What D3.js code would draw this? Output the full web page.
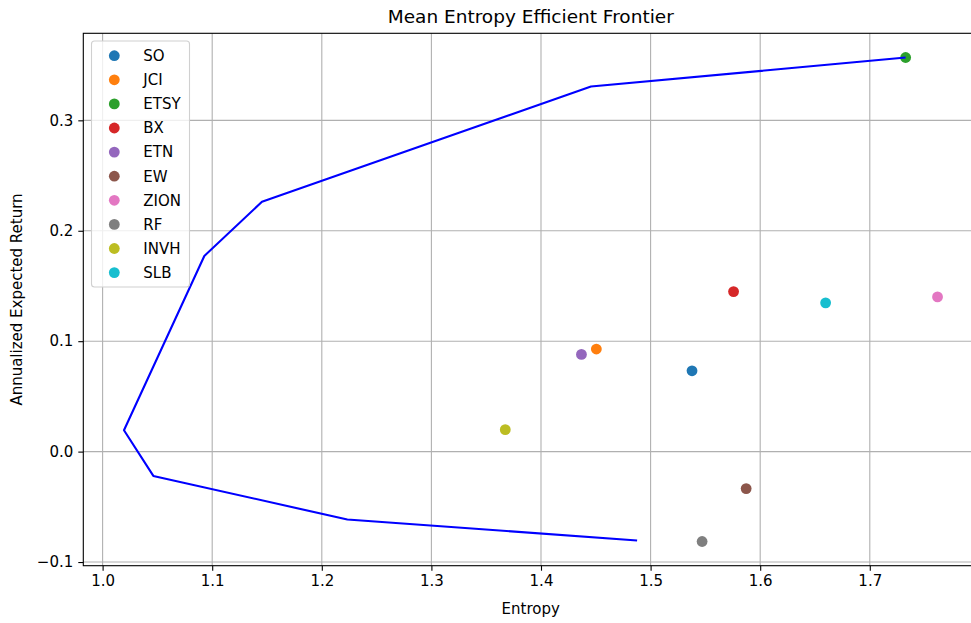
<!DOCTYPE html>
<html>
<head>
<meta charset="utf-8">
<script src="https://cdn.jsdelivr.net/npm/d3@7"></script>
<style>
  html, body { margin: 0; padding: 0; background: #fff; }
  svg { display: block; font-family: "DejaVu Sans", sans-serif; }
</style>
</head>
<body>
<svg id="chart" width="971" height="623"></svg>
<script>
// ---- data ----
const tickers = ["SO", "JCI", "ETSY", "BX", "ETN", "EW", "ZION", "RF", "INVH", "SLB"];
const entropy = [1.5378, 1.4505, 1.7327, 1.5757, 1.4369, 1.5872, 1.7618, 1.5470, 1.3674, 1.6597];
const annReturn = [0.0732, 0.0929, 0.3569, 0.1449, 0.0880, -0.0335, 0.1401, -0.0814, 0.0199, 0.1347];
const colors = ["#1f77b4", "#ff7f0e", "#2ca02c", "#d62728", "#9467bd", "#8c564b", "#e377c2", "#7f7f7f", "#bcbd22", "#17becf"];

const frontierEntropy = [1.4877, 1.2233, 1.0463, 1.0195, 1.0928, 1.1454, 1.4456, 1.7327];
const frontierReturn = [-0.0805, -0.0615, -0.0220, 0.0193, 0.1772, 0.2263, 0.3306, 0.3569];

const xTicks = [1.0, 1.1, 1.2, 1.3, 1.4, 1.5, 1.6, 1.7];
const yTicks = [-0.1, 0.0, 0.1, 0.2, 0.3];

// ---- layout ----
const svg = d3.select("#chart");
const pLeft = 83.3, pRight = 978.2, pTop = 33.3, pBottom = 565.7;

const allX = entropy.concat(frontierEntropy);
const allY = annReturn.concat(frontierReturn);
const xMin = d3.min(allX), xMax = d3.max(allX);
const yMin = d3.min(allY), yMax = d3.max(allY);
const xPad = (xMax - xMin) * 0.05, yPad = (yMax - yMin) * 0.05;

const x = d3.scaleLinear().domain([xMin - xPad, xMax + xPad]).range([pLeft, pRight]);
const y = d3.scaleLinear().domain([yMin - yPad, yMax + yPad]).range([pBottom, pTop]);

// clip
svg.append("defs").append("clipPath").attr("id", "clip")
  .append("rect").attr("x", pLeft).attr("y", pTop).attr("width", pRight - pLeft).attr("height", pBottom - pTop);

// grid
const grid = svg.append("g");
grid.selectAll(".gx").data(xTicks).enter().append("line")
  .attr("x1", d => x(d)).attr("x2", d => x(d)).attr("y1", pTop).attr("y2", pBottom)
  .attr("stroke", "#b0b0b0").attr("stroke-width", 1.1);
grid.selectAll(".gy").data(yTicks).enter().append("line")
  .attr("x1", pLeft).attr("x2", pRight).attr("y1", d => y(d)).attr("y2", d => y(d))
  .attr("stroke", "#b0b0b0").attr("stroke-width", 1.1);

// scatter points
const plot = svg.append("g").attr("clip-path", "url(#clip)");
plot.selectAll("circle.pt").data(tickers).enter().append("circle")
  .attr("class", "pt")
  .attr("cx", (d, i) => x(entropy[i]))
  .attr("cy", (d, i) => y(annReturn[i]))
  .attr("r", 5.4)
  .attr("fill", (d, i) => colors[i]);

// frontier line
const line = d3.line().x(d => x(d[0])).y(d => y(d[1]));
plot.append("path")
  .datum(frontierEntropy.map((e, i) => [e, frontierReturn[i]]))
  .attr("d", line)
  .attr("fill", "none")
  .attr("stroke", "#0000ff")
  .attr("stroke-width", 2.1)
  .attr("stroke-linejoin", "round");

// axes
const xAxis = d3.axisBottom(x).tickValues(xTicks).tickFormat(d3.format(".1f")).tickSize(5).tickPadding(5);
const yAxis = d3.axisLeft(y).tickValues(yTicks).tickFormat(d => d3.format(".1f")(d).replace("-", "\u2212")).tickSize(5).tickPadding(5);

const gx = svg.append("g").attr("transform", `translate(0,${pBottom})`).call(xAxis);
const gy = svg.append("g").attr("transform", `translate(${pLeft},0)`).call(yAxis);
[gx, gy].forEach(g => {
  g.select(".domain").remove();
  g.selectAll("line").attr("stroke", "#000").attr("stroke-width", 1.1);
  g.selectAll("text").attr("fill", "#000").style("font-size", "15px").style("font-family", "DejaVu Sans, sans-serif");
});

// spines
svg.append("rect").attr("x", pLeft).attr("y", pTop).attr("width", pRight - pLeft).attr("height", pBottom - pTop)
  .attr("fill", "none").attr("stroke", "#000").attr("stroke-width", 1.1);

// title and labels
svg.append("text").attr("x", (pLeft + pRight) / 2).attr("y", 22.5).attr("text-anchor", "middle")
  .style("font-size", "18.5px").attr("fill", "#000").text("Mean Entropy Efficient Frontier");
svg.append("text").attr("x", (pLeft + pRight) / 2).attr("y", 614).attr("text-anchor", "middle")
  .style("font-size", "15px").attr("fill", "#000").text("Entropy");
svg.append("text").attr("transform", `translate(22,${(pTop + pBottom) / 2}) rotate(-90)`).attr("text-anchor", "middle")
  .style("font-size", "15px").attr("fill", "#000").text("Annualized Expected Return");

// legend
const lg = svg.append("g");
lg.append("rect").attr("x", 91.5).attr("y", 41).attr("width", 98).attr("height", 246)
  .attr("rx", 3).attr("ry", 3)
  .attr("fill", "#fff").attr("fill-opacity", 0.8).attr("stroke", "#d0d0d0").attr("stroke-width", 1.1);
const items = lg.selectAll("g.item").data(tickers).enter().append("g")
  .attr("transform", (d, i) => `translate(0,${55.7 + i * 24.1})`);
items.append("circle").attr("cx", 114.3).attr("cy", 0).attr("r", 5.4).attr("fill", (d, i) => colors[i]);
items.append("text").attr("x", 143.3).attr("y", 5.3).style("font-size", "15px").attr("fill", "#000").text(d => d);
</script>
</body>
</html>
